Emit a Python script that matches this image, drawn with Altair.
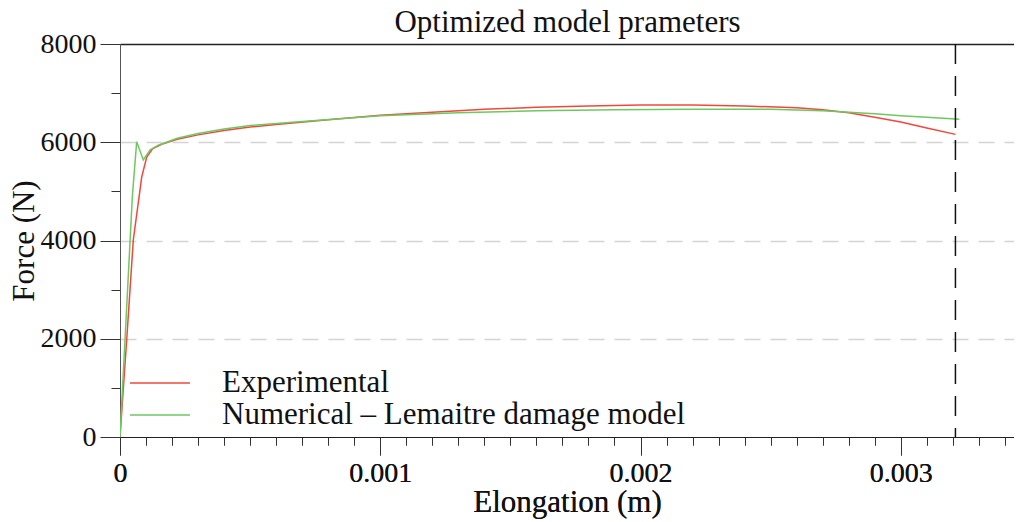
import altair as alt
import pandas as pd

# ---- data ----
series_names = ["Experimental", "Numerical – Lemaitre damage model"]

exp_x = [0, 0.0000257, 0.0000511, 0.0000834, 0.0001026, 0.000126, 0.00016, 0.00022,
         0.0003, 0.0004, 0.0005, 0.0006, 0.0008, 0.001, 0.0012, 0.0014, 0.0016,
         0.0018, 0.002, 0.0022, 0.0024, 0.0026, 0.0027, 0.0028, 0.0029, 0.003,
         0.0031, 0.00321]
exp_f = [0, 1975, 4010, 5290, 5700, 5870, 5960, 6060,
         6150, 6240, 6310, 6360, 6460, 6550, 6610, 6670, 6710,
         6740, 6760, 6760, 6740, 6700, 6660, 6600, 6510, 6410,
         6290, 6160]

num_x = [0, 0.0000192, 0.0000474, 0.0000641, 0.0000896, 0.000115, 0.000147, 0.00022,
         0.0003, 0.0004, 0.0005, 0.0007, 0.001, 0.0013, 0.0016, 0.0019, 0.0022,
         0.0025, 0.0027, 0.0028, 0.0029, 0.003, 0.0031, 0.003225]
num_f = [0, 1975, 4890, 6010, 5640, 5840, 5940, 6080,
         6180, 6270, 6340, 6420, 6540, 6600, 6640, 6660, 6670,
         6670, 6640, 6610, 6580, 6540, 6510, 6470]

fracture_x = [0.00321]
x_ticks = [round(i * 0.0001, 4) for i in range(35)]
y_ticks = [0, 1000, 2000, 3000, 4000, 5000, 6000, 7000, 8000]
colors = ["#f2473c", "#6cc960"]
title_text = "Optimized model prameters"

rows = []
for i, (xv, fv) in enumerate(zip(exp_x, exp_f)):
    rows.append({"series": series_names[0], "x": xv, "f": fv, "order": i})
for i, (xv, fv) in enumerate(zip(num_x, num_f)):
    rows.append({"series": series_names[1], "x": xv, "f": fv, "order": i})
df = pd.DataFrame(rows)

W, H = 894, 393
FONT = "Liberation Serif"
X_MAJOR = "abs(datum.value*1000 - round(datum.value*1000)) < 1e-6"
Y_MAJOR = "datum.value % 2000 == 0"
xscale = alt.Scale(domain=[0, 0.003435], nice=False, zero=False)

x_axis = alt.Axis(
    orient="bottom",
    values=x_ticks,
    labelExpr=f"{X_MAJOR} ? (datum.value == 0 ? '0' : format(datum.value, '.3f')) : ''",
    tickSize={"condition": {"test": X_MAJOR, "value": 18}, "value": 8},
    tickColor="#333333",
    domainColor="#222222",
    grid=False,
    labelFont=FONT, labelFontSize=28, labelColor="#111111", labelPadding=4,
    labelOverlap=False, labelFlush=False,
    title="Elongation (m)", titleFont=FONT, titleFontSize=31,
    titleFontWeight="normal", titleColor="#111111", titlePadding=0,
)
y_axis = alt.Axis(
    values=y_ticks, format="d",
    labelExpr=f"{Y_MAJOR} ? datum.label : ''",
    tickSize={"condition": {"test": Y_MAJOR, "value": 20}, "value": 9},
    tickColor="#333333",
    domainColor="#555555",
    grid=True,
    gridColor="#d4d4d4", gridDash=[16, 10], gridWidth=1.5,
    gridOpacity={"condition": {"test": "datum.value == 2000 || datum.value == 4000 || datum.value == 6000", "value": 1}, "value": 0},
    labelFont=FONT, labelFontSize=28, labelColor="#111111", labelPadding=4,
    labelOverlap=False, labelFlush=False,
    title="Force (N)", titleFont=FONT, titleFontSize=31,
    titleFontWeight="normal", titleColor="#111111", titlePadding=0,
)
top_axis = alt.Axis(
    orient="top", ticks=False, labels=False, grid=False,
    domainColor="#222222", domainWidth=1.5,
    title=title_text, titleFont=FONT, titleFontSize=31,
    titleFontWeight="normal", titleColor="#111111",
    titleBaseline="alphabetic", titlePadding=13,
)

lines = alt.Chart(df).mark_line(strokeWidth=1.5, clip=True).encode(
    x=alt.X("x:Q", scale=xscale, axis=x_axis),
    y=alt.Y("f:Q", scale=alt.Scale(domain=[0, 8000], nice=False), axis=y_axis),
    color=alt.Color(
        "series:N",
        scale=alt.Scale(domain=series_names, range=colors),
        legend=alt.Legend(
            title=None, orient="none", legendX=24.5, legendY=323.5,
            symbolType="M-4,0H4", symbolSize=225, symbolStrokeWidth=1.5,
            labelFont=FONT, labelFontSize=31, labelColor="#111111",
            labelOffset=46.5, rowPadding=0, labelLimit=600,
        ),
    ),
    order="order:Q",
)

frac = alt.Chart(pd.DataFrame({"x": fracture_x})).mark_rule(
    color="#111111", strokeDash=[20, 12], strokeWidth=1.5
).encode(x=alt.X("x:Q", scale=xscale, axis=x_axis))

top_frame = alt.Chart(pd.DataFrame({"x": [0]})).mark_point(opacity=0).encode(
    x=alt.X("x:Q", scale=xscale, axis=top_axis),
)

chart = alt.layer(lines, frac, top_frame).resolve_axis(x="independent").properties(
    width=W, height=H,
    autosize=alt.AutoSizeParams(type="none"),
    padding={"left": 112, "top": 36, "right": 0, "bottom": 84},
).configure_view(stroke=None).configure(background="white")

chart.save("out.html", embed_options={"renderer": "svg", "actions": False})
